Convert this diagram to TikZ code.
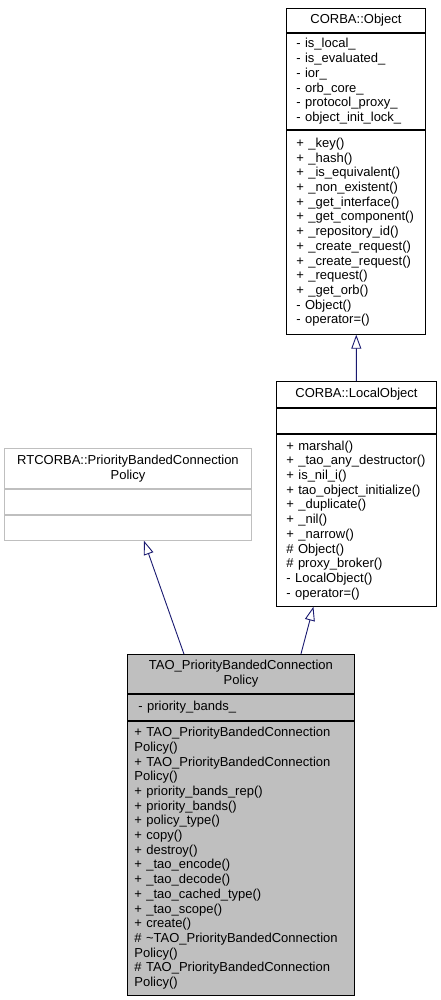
\documentclass[tikz,border=0pt]{standalone}
\usepackage{fontspec}
\setmainfont{Liberation Sans}
\usetikzlibrary{positioning,arrows.meta}
\definecolor{edgeblue}{HTML}{191970}
\definecolor{boxgrey}{HTML}{BFBFBF}
\tikzset{
  part/.style={draw, line width=0.9pt, inner xsep=10pt, inner ysep=1pt, align=left,
    font=\fontsize{13}{14.7}\selectfont},
  title/.style={part, align=center},
  ghost/.style={draw=boxgrey},
  current/.style={fill=boxgrey},
  inherit/.style={draw=edgeblue, line width=0.9pt,
    -{Triangle[open, length=14pt, width=10pt]}}
}
\begin{document}
\begin{tikzpicture}[x=1pt,y=-1pt]
                \useasboundingbox (0,0) rectangle (441,1000);
                % CORBA::Object
                \node[title, text width=119pt, minimum height=24pt, anchor=north west] (obj-name) at (286,8) {CORBA::Object};
                \node[part, text width=119pt, minimum height=96pt, below=0pt of obj-name] (obj-attr)
                  {- is\_local\_\\- is\_evaluated\_\\- ior\_\\- orb\_core\_\\- protocol\_proxy\_\\- object\_init\_lock\_};
                \node[part, text width=119pt, minimum height=204pt, below=0pt of obj-attr] (obj-meth)
                  {+ \_key()\\+ \_hash()\\+ \_is\_equivalent()\\+ \_non\_existent()\\+ \_get\_interface()\\+ \_get\_component()\\+ \_repository\_id()\\+ \_create\_request()\\+ \_create\_request()\\+ \_request()\\+ \_get\_orb()\\- Object()\\- operator=()};
                % CORBA::LocalObject
                \node[title, text width=140pt, minimum height=26pt, anchor=north west] (lo-name) at (276,381) {CORBA::LocalObject};
                \node[part, text width=140pt, minimum height=25pt, below=0pt of lo-name] (lo-attr) {};
                \node[part, text width=140pt, minimum height=172pt, below=0pt of lo-attr] (lo-meth)
                  {+ marshal()\\+ \_tao\_any\_destructor()\\+ is\_nil\_i()\\+ tao\_object\_initialize()\\+ \_duplicate()\\+ \_nil()\\+ \_narrow()\\\# Object()\\\# proxy\_broker()\\- LocalObject()\\- operator=()};
                % RTCORBA::PriorityBandedConnectionPolicy
                \node[title, ghost, inner xsep=2pt, text width=243pt, minimum height=40pt, anchor=north west] (rt-name) at (4,448)
                  {RTCORBA::PriorityBandedConnection\\Policy};
                \node[part, ghost, inner xsep=2pt, text width=243pt, minimum height=25pt, below=0pt of rt-name] (rt-attr) {};
                \node[part, ghost, inner xsep=2pt, text width=243pt, minimum height=25pt, below=0pt of rt-attr] (rt-meth) {};
                % TAO_PriorityBandedConnectionPolicy
                \node[title, current, inner xsep=7pt, text width=213pt, minimum height=39pt, anchor=north west] (tao-name) at (127,654)
                  {TAO\_PriorityBandedConnection\\Policy};
                \node[part, current, inner xsep=11pt, text width=205pt, minimum height=26pt, below=0pt of tao-name] (tao-attr)
                  {- priority\_bands\_};
                \node[part, current, inner xsep=7pt, text width=213pt, minimum height=274pt, below=0pt of tao-attr] (tao-meth)
                  {+ TAO\_PriorityBandedConnection\\Policy()\\+ TAO\_PriorityBandedConnection\\Policy()\\+ priority\_bands\_rep()\\+ priority\_bands()\\+ policy\_type()\\+ copy()\\+ destroy()\\+ \_tao\_encode()\\+ \_tao\_decode()\\+ \_tao\_cached\_type()\\+ \_tao\_scope()\\+ create()\\\# \textasciitilde TAO\_PriorityBandedConnection\\Policy()\\\# TAO\_PriorityBandedConnection\\Policy()};
                % inheritance
                \draw[inherit] (lo-name) -- (obj-meth);
                \draw[inherit] ([xshift=-57pt]tao-name.north) -- ([xshift=16pt]rt-meth.south);
                \draw[inherit] ([xshift=60pt]tao-name.north) -- ([xshift=-43pt]lo-meth.south);
            \end{tikzpicture}
\end{document}
